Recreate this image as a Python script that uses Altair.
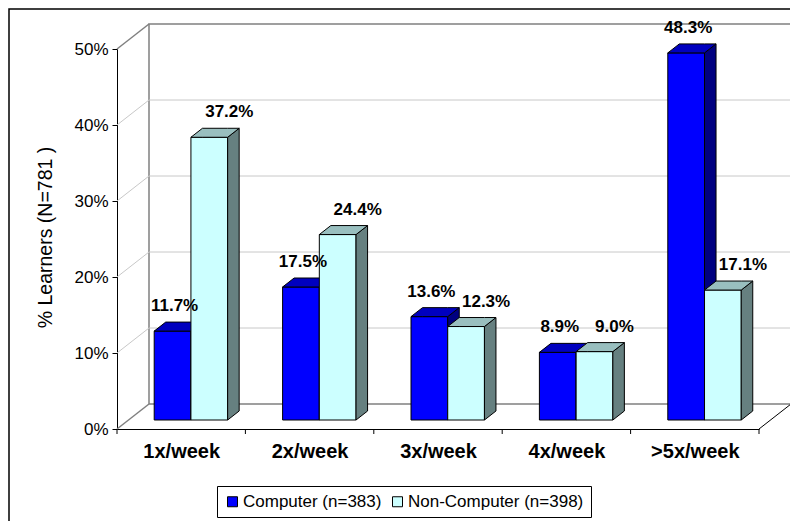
import altair as alt
import pandas as pd

# ---------------- data ----------------
categories = ["1x/week", "2x/week", "3x/week", "4x/week", ">5x/week"]
series = ["Computer (n=383)", "Non-Computer (n=398)"]
computer = [11.7, 17.5, 13.6, 8.9, 48.3]
non_computer = [37.2, 24.4, 12.3, 9.0, 17.1]
y_ticks = [0, 10, 20, 30, 40, 50]
y_title = "% Learners (N=781 )"

# ---------------- styling / geometry ----------------
FONT = "Liberation Sans"
W, H = 642, 380
XMAX, YMAX = len(categories), 50
PXX = W / XMAX
PXY = H / YMAX
WALL_DX = 32 / PXX          # depth of the 3D box in data units
WALL_DY = 25 / PXY
BAR_F0, BAR_F1 = 0.36, 0.72  # front / back of bars as fraction of depth
BAR_LEFT = 0.2
BAR_W = 0.286
front_colors = ["#0000FF", "#CCFFFF"]
side_colors = ["#000080", "#668080"]
top_colors = ["#0000BF", "#99BFBF"]
label_dx = [2, 20]

values = [computer, non_computer]
DDX = (BAR_F1 - BAR_F0) * WALL_DX
DDY = (BAR_F1 - BAR_F0) * WALL_DY
base = BAR_F0 * WALL_DY

fronts, sides, tops = [], [], []
for s, vals in enumerate(values):
    for i, v in enumerate(vals):
        x0 = i + BAR_F0 * WALL_DX + BAR_LEFT + s * BAR_W
        x1 = x0 + BAR_W
        top = base + v
        fronts.append(dict(series=series[s], cat=categories[i], x0=x0, x1=x1,
                           xc=(x0 + x1) / 2, b=base, t=top, s=s,
                           label=f"{v:.1f}%"))
        fid = f"{s}-{i}"
        sides += [dict(face=fid, s=s, x=x1, y=base, y2=top),
                  dict(face=fid, s=s, x=x1 + DDX, y=base + DDY, y2=top + DDY)]
        tops += [dict(face=fid, s=s, x=x0, y=top, y2=top),
                 dict(face=fid, s=s, x=x0 + DDX, y=top, y2=top + DDY),
                 dict(face=fid, s=s, x=x1, y=top, y2=top + DDY),
                 dict(face=fid, s=s, x=x1 + DDX, y=top + DDY, y2=top + DDY)]
fronts = pd.DataFrame(fronts)
sides = pd.DataFrame(sides)
tops = pd.DataFrame(tops)

xs = alt.Scale(domain=[0, XMAX], nice=False, zero=False)
ys = alt.Scale(domain=[0, YMAX], nice=False, zero=False)
label_expr = "[" + ",".join("'" + c + "'" for c in categories) + "][floor(datum.value)]"
xaxis = alt.Axis(values=[i + 0.5 for i in range(len(categories))], labelExpr=label_expr,
                 ticks=False, tickSize=0, grid=False, domainColor="black", domainWidth=1,
                 labelFont=FONT, labelFontSize=20, labelFontWeight="bold", labelColor="black",
                 labelBaseline="middle", labelPadding=22, title=None)
yaxis = alt.Axis(values=y_ticks, labelExpr="datum.value + '%'", grid=False,
                 domainColor="black", tickColor="black", tickSize=5, labelPadding=4,
                 labelFont=FONT, labelFontSize=17, labelColor="black",
                 title=y_title, titleFont=FONT, titleFontSize=19.5, titleFontWeight="normal",
                 titleColor="black", titleAngle=-90, titleX=-72, titleY=188,
                 titleAlign="center", titleBaseline="middle")


def X(f):
    return alt.X(f, type="quantitative", scale=xs, axis=xaxis)


def Y(f):
    return alt.Y(f, type="quantitative", scale=ys, axis=yaxis, stack=False)


one = pd.DataFrame({"a": [0]})

# outer frame
frame = alt.Chart(one).mark_rect(fillOpacity=0, stroke="black", strokeWidth=1.5).encode(
    x=alt.value(-108), x2=alt.value(700), y=alt.value(-40), y2=alt.value(520))

# back wall
wall = pd.DataFrame({"x": [WALL_DX], "x2": [XMAX + WALL_DX], "y": [WALL_DY], "y2": [YMAX + WALL_DY]})
back = alt.Chart(wall).mark_rect(fill="white", stroke="#808080", strokeWidth=1.5).encode(
    x=X("x"), x2="x2", y=Y("y"), y2="y2")

grid_df = pd.DataFrame({"v": y_ticks[1:-1]})
grid_df["vb"] = grid_df["v"] + WALL_DY
grid_df["x0"] = 0.0
grid_df["xb"] = WALL_DX
grid_df["xe"] = XMAX + WALL_DX
back_grid = alt.Chart(grid_df).mark_rule(color="#C8C8C8", strokeWidth=1).encode(
    x=X("xb"), x2="xe", y=Y("vb"), y2="vb")
side_grid = alt.Chart(grid_df).mark_rule(color="#C8C8C8", strokeWidth=1).encode(
    x=X("x0"), x2="xb", y=Y("v"), y2="vb")

edge_df = pd.DataFrame({"v": [y_ticks[0], y_ticks[-1]]})
edge_df["vb"] = edge_df["v"] + WALL_DY
edge_df["x0"] = 0.0
edge_df["xb"] = WALL_DX
side_edges = alt.Chart(edge_df).mark_rule(color="#808080", strokeWidth=1.5).encode(
    x=X("x0"), x2="xb", y=Y("v"), y2="vb")

floor_df = pd.DataFrame({"x": [XMAX], "x2": [XMAX + WALL_DX], "y": [0], "y2": [WALL_DY]})
floor_edge = alt.Chart(floor_df).mark_rule(color="black", strokeWidth=1).encode(
    x=X("x"), x2="x2", y=Y("y"), y2="y2")

ticks_df = pd.DataFrame({"b": list(range(len(categories) + 1))})
xticks = alt.Chart(ticks_df).mark_rule(color="black", strokeWidth=1).encode(
    x=X("b"), y=alt.value(H), y2=alt.value(H + 5))

layers = [frame, back, back_grid, side_grid, side_edges, floor_edge, xticks]

for s in range(len(series)):
    f = alt.Chart(fronts[fronts.s == s]).mark_rect(stroke="black", strokeWidth=1).encode(
        x=X("x0"), x2="x1", y=Y("b"), y2="t",
        color=alt.Color("series:N", scale=alt.Scale(domain=series, range=front_colors),
                        legend=alt.Legend(orient="none", legendX=100, legendY=437,
                                          direction="horizontal", title=None,
                                          symbolType="square", symbolSize=100,
                                          symbolStrokeColor="black", symbolStrokeWidth=1,
                                          symbolOpacity=1,
                                          labelFont=FONT, labelFontSize=17, labelColor="black",
                                          labelLimit=400, labelOffset=2,
                                          strokeColor="black", fillColor="white",
                                          padding=7, columnPadding=7)))
    sd = alt.Chart(sides[sides.s == s]).mark_area(
        fill=side_colors[s], fillOpacity=1, stroke="black", strokeWidth=1).encode(
        x=X("x"), y=Y("y"), y2="y2", detail="face:N")
    tp = alt.Chart(tops[tops.s == s]).mark_area(
        fill=top_colors[s], fillOpacity=1, stroke="black", strokeWidth=1).encode(
        x=X("x"), y=Y("y"), y2="y2", detail="face:N")
    layers += [f, sd, tp]

for s in range(len(series)):
    txt = alt.Chart(fronts[fronts.s == s]).mark_text(
        font=FONT, fontSize=17, fontWeight="bold", color="black",
        baseline="middle", align="center", dx=label_dx[s], dy=-25).encode(
        x=X("xc"), y=Y("t"), text="label:N")
    layers.append(txt)

chart = alt.layer(*layers).properties(
    width=W, height=H, autosize="none",
    padding={"left": 109, "top": 41, "right": 31, "bottom": 92},
    background="white",
).configure_view(stroke=None)

chart.save("out.html", embed_options={"renderer": "svg", "actions": False})
